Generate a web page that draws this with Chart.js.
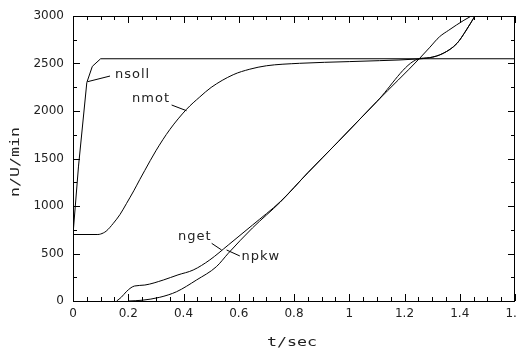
<!DOCTYPE html>
<html>
<head>
<meta charset="utf-8">
<script src="https://cdn.jsdelivr.net/npm/chart.js@4/dist/chart.umd.min.js"></script>
<style>
html,body{margin:0;padding:0;background:#fff;overflow:hidden}
#wrap{width:517px;height:351px}
</style>
</head>
<body>
<div id="wrap"><canvas id="c" width="517" height="351"></canvas></div>
<script>
// ---- data ----
const xTickValues = [0, 0.2, 0.4, 0.6, 0.8, 1, 1.2, 1.4, 1.6];
const xTickLabels = ['0', '0.2', '0.4', '0.6', '0.8', '1', '1.2', '1.4', '1.6'];
const yTickValues = [0, 500, 1000, 1500, 2000, 2500, 3000];
const yTickLabels = ['0', '500', '1000', '1500', '2000', '2500', '3000'];

const nsollT = [0, 0.02, 0.05, 0.07, 0.1, 1.6];
const nsollN = [700, 1420, 2300, 2470, 2550, 2550];

const nmotT = [0, 0.09, 0.1, 0.12, 0.146, 0.17, 0.194, 0.22, 0.242, 0.26, 0.3, 0.35, 0.411, 0.459, 0.5, 0.58, 0.64, 0.7, 0.82, 1.0, 1.11, 1.25, 1.29, 1.34, 1.39, 1.424, 1.455];
const nmotN = [700, 700, 705, 735, 818, 910, 1028, 1160, 1280, 1375, 1581, 1803, 2018, 2148, 2248, 2382, 2440, 2476, 2502, 2520, 2530, 2548, 2561, 2607, 2712, 2853, 3000];

const ngetT = [0.158, 0.175, 0.193, 0.21, 0.223, 0.26, 0.327, 0.38, 0.435, 0.495, 0.562, 0.65, 0.75, 0.85, 0.96, 1.1, 1.25, 1.29, 1.34, 1.39, 1.424, 1.455];
const ngetN = [0, 40, 98, 140, 158, 168, 221, 275, 326, 432, 589, 800, 1045, 1350, 1677, 2100, 2548, 2561, 2607, 2712, 2853, 3000];

const npkwT = [0.2, 0.25, 0.314, 0.375, 0.447, 0.519, 0.562, 0.65, 0.75, 0.85, 0.96, 1.1, 1.255, 1.29, 1.327, 1.36, 1.388, 1.415, 1.442];
const npkwN = [0, 8, 39, 98, 221, 361, 502, 770, 1040, 1350, 1677, 2100, 2555, 2665, 2782, 2850, 2905, 2955, 3000];

const seriesNames = ['nsoll', 'nmot', 'nget', 'npkw'];
const xTitle = 't/sec';
const yTitle = 'n/U/min';

// ---- annotation placement (data units) ----
const curveLabels = [
  {text: 'nsoll', at: [0.152, 2379], from: [0.052, 2308], to: [0.134, 2368]},
  {text: 'nmot',  at: [0.214, 2126], from: [0.357, 2063], to: [0.411, 2003]},
  {text: 'nget',  at: [0.380, 674],  from: [0.502, 607],  to: [0.538, 537]},
  {text: 'npkw',  at: [0.610, 463],  from: [0.556, 537],  to: [0.604, 474]}
];

const pts = (ts, ns) => ts.map((t, i) => ({x: t, y: ns[i]}));
const seriesData = [pts(nsollT, nsollN), pts(nmotT, nmotN), pts(ngetT, ngetN), pts(npkwT, npkwN)];

const INK = '#000';
const TXT = '#222';

function wideText(ctx, text, x, y, sx) {
  ctx.save();
  ctx.translate(x, y);
  ctx.scale(sx, 1);
  ctx.fillText(text, 0, 0);
  ctx.restore();
}

const framePlugin = {
  id: 'frame',
  afterDatasetsDraw(chart) {
    const {ctx, chartArea: a, scales: {x, y}} = chart;
    ctx.save();
    ctx.strokeStyle = INK;
    ctx.lineWidth = 1;
    // frame
    ctx.strokeRect(Math.round(a.left) + 0.5, Math.round(a.top) + 0.5,
                   Math.round(a.right - a.left) - 1, Math.round(a.bottom - a.top));
    // inward ticks
    ctx.beginPath();
    for (let k = 0; k <= 32; k++) {
      const v = k * 0.05;
      const px = Math.round(x.getPixelForValue(v)) + 0.5;
      const len = (k % 4 === 0) ? 7 : 4;
      ctx.moveTo(px, a.bottom); ctx.lineTo(px, a.bottom - len);
      ctx.moveTo(px, a.top); ctx.lineTo(px, a.top + len);
    }
    for (let k = 0; k <= 12; k++) {
      const v = k * 250;
      const py = Math.round(y.getPixelForValue(v)) + 0.5;
      const len = (k % 2 === 0) ? 7 : 4;
      ctx.moveTo(a.left, py); ctx.lineTo(a.left + len, py);
      ctx.moveTo(a.right, py); ctx.lineTo(a.right - len, py);
    }
    ctx.stroke();

    // curve labels
    ctx.fillStyle = TXT;
    ctx.font = '13px "DejaVu Sans"';
    ctx.textAlign = 'left';
    ctx.textBaseline = 'middle';
    try { ctx.letterSpacing = '1px'; } catch (e) {}
    ctx.beginPath();
    curveLabels.forEach(l => {
      ctx.fillText(l.text, x.getPixelForValue(l.at[0]), y.getPixelForValue(l.at[1]));
      ctx.moveTo(x.getPixelForValue(l.from[0]), y.getPixelForValue(l.from[1]));
      ctx.lineTo(x.getPixelForValue(l.to[0]), y.getPixelForValue(l.to[1]));
    });
    ctx.stroke();

    // axis titles
    try { ctx.letterSpacing = '0px'; } catch (e) {}
    ctx.textAlign = 'center';
    ctx.font = '12.5px "DejaVu Sans Mono"';
    wideText(ctx, xTitle, 292, 343, 1.33);
    ctx.translate(16, 162);
    ctx.rotate(-Math.PI / 2);
    wideText(ctx, yTitle, 0, 0, 1.33);
    ctx.restore();
  }
};

new Chart(document.getElementById('c'), {
  type: 'line',
  data: {
    datasets: seriesData.map((d, i) => ({
      label: seriesNames[i],
      data: d,
      borderColor: INK,
      borderWidth: 1,
      pointRadius: 0,
      fill: false,
      tension: i === 0 ? 0 : 0.4,
      cubicInterpolationMode: i === 0 ? 'default' : 'monotone'
    }))
  },
  options: {
    responsive: false,
    animation: false,
    devicePixelRatio: 1,
    layout: {padding: {left: 0, top: 16, right: 2, bottom: 0}},
    plugins: {legend: {display: false}, tooltip: {enabled: false}},
    scales: {
      x: {
        type: 'linear', min: 0, max: 1.6,
        grid: {display: false, drawTicks: false},
        border: {display: false},
        afterBuildTicks: s => { s.ticks = xTickValues.map(v => ({value: v})); },
        ticks: {
          callback: (v) => { const i = xTickValues.findIndex(t => Math.abs(t - v) < 1e-6); return i >= 0 ? xTickLabels[i] : ''; },
          font: {family: 'DejaVu Sans', size: 12}, color: TXT, padding: 6,
          maxRotation: 0, autoSkip: false
        },
        afterFit: s => { s.height = 50; s.paddingLeft = 0; s.paddingRight = 0; }
      },
      y: {
        type: 'linear', min: 0, max: 3000,
        grid: {display: false, drawTicks: false},
        border: {display: false},
        afterBuildTicks: s => { s.ticks = yTickValues.map(v => ({value: v})); },
        ticks: {
          callback: (v) => { const i = yTickValues.indexOf(v); return i >= 0 ? yTickLabels[i] : ''; },
          font: {family: 'DejaVu Sans', size: 12}, color: TXT, padding: 9, autoSkip: false
        },
        afterFit: s => { s.width = 73; s.paddingTop = 0; s.paddingBottom = 0; }
      }
    }
  },
  plugins: [framePlugin]
});
</script>
</body>
</html>
